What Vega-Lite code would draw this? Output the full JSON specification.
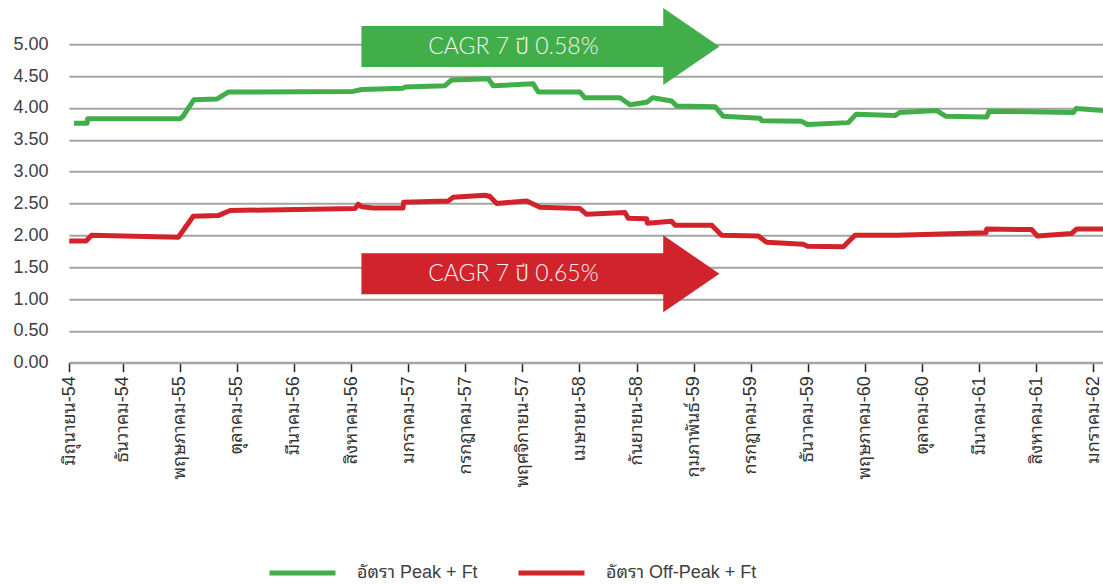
{
  "$schema": "https://vega.github.io/schema/vega-lite/v6.json",
  "autosize": {"type": "none"},
  "padding": {"left": 69, "top": 44.3, "right": 0, "bottom": 221.3},
  "width": 1034,
  "height": 318.4,
  "background": "white",
  "config": {"view": {"stroke": null}, "font": "Liberation Sans, Noto Sans Thai Looped, Loma, Garuda, Tahoma, Noto Sans Thai, sans-serif"},
  "datasets": {
    "rates": [
      {"series": "อัตรา Peak + Ft", "idx": 0.74, "value": 3.76},
      {"series": "อัตรา Peak + Ft", "idx": 1.88, "value": 3.76},
      {"series": "อัตรา Peak + Ft", "idx": 1.93, "value": 3.83},
      {"series": "อัตรา Peak + Ft", "idx": 10.02, "value": 3.83},
      {"series": "อัตรา Peak + Ft", "idx": 10.28, "value": 3.87},
      {"series": "อัตรา Peak + Ft", "idx": 11.24, "value": 4.13},
      {"series": "อัตรา Peak + Ft", "idx": 13.23, "value": 4.14},
      {"series": "อัตรา Peak + Ft", "idx": 14.25, "value": 4.25},
      {"series": "อัตรา Peak + Ft", "idx": 25.17, "value": 4.26},
      {"series": "อัตรา Peak + Ft", "idx": 25.93, "value": 4.29},
      {"series": "อัตรา Peak + Ft", "idx": 29.55, "value": 4.31},
      {"series": "อัตรา Peak + Ft", "idx": 29.72, "value": 4.33},
      {"series": "อัตรา Peak + Ft", "idx": 33.22, "value": 4.35},
      {"series": "อัตรา Peak + Ft", "idx": 33.81, "value": 4.44},
      {"series": "อัตรา Peak + Ft", "idx": 37.01, "value": 4.46},
      {"series": "อัตรา Peak + Ft", "idx": 37.45, "value": 4.35},
      {"series": "อัตรา Peak + Ft", "idx": 40.95, "value": 4.38},
      {"series": "อัตรา Peak + Ft", "idx": 41.39, "value": 4.25},
      {"series": "อัตรา Peak + Ft", "idx": 45.04, "value": 4.25},
      {"series": "อัตรา Peak + Ft", "idx": 45.48, "value": 4.16},
      {"series": "อัตรา Peak + Ft", "idx": 48.55, "value": 4.16},
      {"series": "อัตรา Peak + Ft", "idx": 49.42, "value": 4.05},
      {"series": "อัตรา Peak + Ft", "idx": 50.88, "value": 4.09},
      {"series": "อัตรา Peak + Ft", "idx": 51.41, "value": 4.16},
      {"series": "อัตรา Peak + Ft", "idx": 53.07, "value": 4.11},
      {"series": "อัตรา Peak + Ft", "idx": 53.51, "value": 4.03},
      {"series": "อัตรา Peak + Ft", "idx": 56.87, "value": 4.02},
      {"series": "อัตรา Peak + Ft", "idx": 57.59, "value": 3.87},
      {"series": "อัตรา Peak + Ft", "idx": 60.8, "value": 3.84},
      {"series": "อัตรา Peak + Ft", "idx": 60.95, "value": 3.8},
      {"series": "อัตรา Peak + Ft", "idx": 64.46, "value": 3.79},
      {"series": "อัตรา Peak + Ft", "idx": 64.95, "value": 3.74},
      {"series": "อัตรา Peak + Ft", "idx": 68.54, "value": 3.77},
      {"series": "อัตรา Peak + Ft", "idx": 69.21, "value": 3.9},
      {"series": "อัตรา Peak + Ft", "idx": 72.63, "value": 3.88},
      {"series": "อัตรา Peak + Ft", "idx": 73.07, "value": 3.93},
      {"series": "อัตรา Peak + Ft", "idx": 76.28, "value": 3.96},
      {"series": "อัตรา Peak + Ft", "idx": 77.09, "value": 3.87},
      {"series": "อัตรา Peak + Ft", "idx": 80.65, "value": 3.86},
      {"series": "อัตรา Peak + Ft", "idx": 80.88, "value": 3.95},
      {"series": "อัตรา Peak + Ft", "idx": 88.24, "value": 3.93},
      {"series": "อัตรา Peak + Ft", "idx": 88.48, "value": 3.99},
      {"series": "อัตรา Peak + Ft", "idx": 90.84, "value": 3.96},
      {"series": "อัตรา Off-Peak + Ft", "idx": 0.32, "value": 1.91},
      {"series": "อัตรา Off-Peak + Ft", "idx": 1.79, "value": 1.91},
      {"series": "อัตรา Off-Peak + Ft", "idx": 2.28, "value": 2.0},
      {"series": "อัตรา Off-Peak + Ft", "idx": 9.87, "value": 1.97},
      {"series": "อัตรา Off-Peak + Ft", "idx": 11.18, "value": 2.3},
      {"series": "อัตรา Off-Peak + Ft", "idx": 13.37, "value": 2.31},
      {"series": "อัตรา Off-Peak + Ft", "idx": 14.4, "value": 2.39},
      {"series": "อัตรา Off-Peak + Ft", "idx": 25.34, "value": 2.42},
      {"series": "อัตรา Off-Peak + Ft", "idx": 25.63, "value": 2.49},
      {"series": "อัตรา Off-Peak + Ft", "idx": 25.93, "value": 2.45},
      {"series": "อัตรา Off-Peak + Ft", "idx": 26.94, "value": 2.43},
      {"series": "อัตรา Off-Peak + Ft", "idx": 29.55, "value": 2.43},
      {"series": "อัตรา Off-Peak + Ft", "idx": 29.6, "value": 2.52},
      {"series": "อัตรา Off-Peak + Ft", "idx": 33.51, "value": 2.54},
      {"series": "อัตรา Off-Peak + Ft", "idx": 33.95, "value": 2.6},
      {"series": "อัตรา Off-Peak + Ft", "idx": 36.72, "value": 2.63},
      {"series": "อัตรา Off-Peak + Ft", "idx": 37.16, "value": 2.61},
      {"series": "อัตรา Off-Peak + Ft", "idx": 37.75, "value": 2.5},
      {"series": "อัตรา Off-Peak + Ft", "idx": 40.38, "value": 2.54},
      {"series": "อัตรา Off-Peak + Ft", "idx": 41.54, "value": 2.44},
      {"series": "อัตรา Off-Peak + Ft", "idx": 45.04, "value": 2.42},
      {"series": "อัตรา Off-Peak + Ft", "idx": 45.63, "value": 2.33},
      {"series": "อัตรา Off-Peak + Ft", "idx": 48.98, "value": 2.36},
      {"series": "อัตรา Off-Peak + Ft", "idx": 49.27, "value": 2.27},
      {"series": "อัตรา Off-Peak + Ft", "idx": 50.88, "value": 2.26},
      {"series": "อัตรา Off-Peak + Ft", "idx": 50.94, "value": 2.19},
      {"series": "อัตรา Off-Peak + Ft", "idx": 53.07, "value": 2.22},
      {"series": "อัตรา Off-Peak + Ft", "idx": 53.36, "value": 2.16},
      {"series": "อัตรา Off-Peak + Ft", "idx": 56.58, "value": 2.16},
      {"series": "อัตรา Off-Peak + Ft", "idx": 57.45, "value": 2.0},
      {"series": "อัตรา Off-Peak + Ft", "idx": 60.66, "value": 1.99},
      {"series": "อัตรา Off-Peak + Ft", "idx": 61.39, "value": 1.89},
      {"series": "อัตรา Off-Peak + Ft", "idx": 64.6, "value": 1.86},
      {"series": "อัตรา Off-Peak + Ft", "idx": 64.95, "value": 1.83},
      {"series": "อัตรา Off-Peak + Ft", "idx": 68.1, "value": 1.82},
      {"series": "อัตรา Off-Peak + Ft", "idx": 69.12, "value": 2.0},
      {"series": "อัตรา Off-Peak + Ft", "idx": 72.78, "value": 2.0},
      {"series": "อัตรา Off-Peak + Ft", "idx": 80.6, "value": 2.04},
      {"series": "อัตรา Off-Peak + Ft", "idx": 80.66, "value": 2.1},
      {"series": "อัตรา Off-Peak + Ft", "idx": 84.6, "value": 2.09},
      {"series": "อัตรา Off-Peak + Ft", "idx": 85.09, "value": 1.99},
      {"series": "อัตรา Off-Peak + Ft", "idx": 88.1, "value": 2.03},
      {"series": "อัตรา Off-Peak + Ft", "idx": 88.54, "value": 2.1},
      {"series": "อัตรา Off-Peak + Ft", "idx": 90.84, "value": 2.1}
    ],
    "arrows": [
      {"series": "อัตรา Peak + Ft", "idx": 41.58, "value": 4.965, "label": "CAGR 7 ปี 0.58%"},
      {"series": "อัตรา Off-Peak + Ft", "idx": 41.58, "value": 1.396, "label": "CAGR 7 ปี 0.65%"}
    ]
  },
  "layer": [
    {
      "data": {"name": "rates"},
      "mark": {"type": "line", "strokeWidth": 5, "clip": true, "strokeJoin": "round"},
      "encoding": {
        "x": {
          "field": "idx", "type": "quantitative",
          "scale": {"domain": [0.3, 90.84], "nice": false, "zero": false},
          "axis": {
            "title": null,
            "grid": false,
            "values": [0.3, 5, 10, 15, 20, 25, 30, 35, 40, 45, 50, 55, 60, 65, 70, 75, 80, 85, 90],
            "labelExpr": "['มิถุนายน-54','ธันวาคม-54','พฤษภาคม-55','ตุลาคม-55','มีนาคม-56','สิงหาคม-56','มกราคม-57','กรกฎาคม-57','พฤศจิกายน-57','เมษายน-58','กันยายน-58','กุมภาพันธ์-59','กรกฎาคม-59','ธันวาคม-59','พฤษภาคม-60','ตุลาคม-60','มีนาคม-61','สิงหาคม-61','มกราคม-62'][round(datum.value/5)]",
            "labelAngle": -90,
            "labelFontSize": 18,
            "labelColor": "#333333",
            "labelPadding": 4,
            "labelOverlap": false,
            "labelFlush": false,
            "labelBound": false,
            "domainColor": "#a3a3a3",
            "domainWidth": 2,
            "tickColor": "#222222",
            "tickWidth": 1.5,
            "tickSize": 9
          }
        },
        "y": {
          "field": "value", "type": "quantitative",
          "scale": {"domain": [0, 5], "nice": false},
          "axis": {
            "title": null,
            "values": [0, 0.5, 1, 1.5, 2, 2.5, 3, 3.5, 4, 4.5, 5],
            "tickCount": 11,
            "labelOverlap": false,
            "format": ".2f",
            "domain": false,
            "ticks": false,
            "labelPadding": 21,
            "labelFontSize": 18,
            "labelColor": "#404040",
            "gridColor": "#a3a3a3",
            "gridWidth": 2
          }
        },
        "color": {
          "field": "series", "type": "nominal",
          "scale": {"domain": ["อัตรา Peak + Ft", "อัตรา Off-Peak + Ft"], "range": ["#41ae4a", "#d2232b"]},
          "legend": {
            "title": null,
            "orient": "none",
            "direction": "horizontal",
            "legendX": 198,
            "legendY": 493,
            "symbolType": "stroke",
            "symbolSize": 4356,
            "symbolStrokeWidth": 5,
            "labelFontSize": 18,
            "labelColor": "#404040",
            "labelOffset": 19,
            "columnPadding": 30
          }
        }
      }
    },
    {
      "data": {"name": "arrows"},
      "mark": {
        "type": "point",
        "shape": "M-1,-0.1145L0.686,-0.1145L0.686,-0.215L1,0L0.686,0.215L0.686,0.1145L-1,0.1145Z",
        "size": 128164,
        "filled": true,
        "opacity": 1,
        "strokeWidth": 0
      },
      "encoding": {
        "x": {"field": "idx", "type": "quantitative"},
        "y": {"field": "value", "type": "quantitative"},
        "fill": {
          "condition": {"test": "datum.series === 'อัตรา Peak + Ft'", "value": "#41ae4a"},
          "value": "#d0232b"
        }
      }
    },
    {
      "data": {"name": "arrows"},
      "mark": {"type": "text", "font": "Lato Light, Noto Sans Thai Light, Noto Sans Thai, sans-serif", "fontWeight": 300, "fontSize": 23, "color": "#f4f4f4", "align": "center", "baseline": "middle", "dx": -27},
      "encoding": {
        "x": {"field": "idx", "type": "quantitative"},
        "y": {"field": "value", "type": "quantitative"},
        "text": {"field": "label", "type": "nominal"}
      }
    }
  ]
}
